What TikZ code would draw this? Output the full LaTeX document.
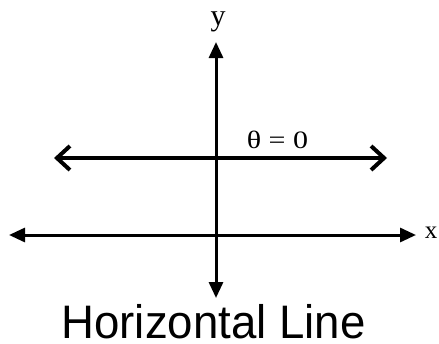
\documentclass[tikz,border=0pt]{standalone}
\usepackage{fontspec}
\setmainfont{Liberation Serif}
\newfontfamily\arialfont{Liberation Sans}
\usetikzlibrary{arrows.meta}
\begin{document}
\begin{tikzpicture}[x=1pt,y=-1pt,
  axisboth/.style={line width=3pt,{Triangle[length=16pt,width=14pt]}-{Triangle[length=16pt,width=14pt]}},
  barbline/.style={line width=4pt,{Straight Barb[length=13pt,width=24pt,line width=4pt]}-{Straight Barb[length=13pt,width=24pt,line width=4pt]}},
  lbl/.style={inner sep=0pt, anchor=base}]
\useasboundingbox (0,0) rectangle (439,343);
\coordinate (ytop) at (216,42);
\coordinate (ybot) at (216,298);
\coordinate (xleft) at (9,235);
\coordinate (xright) at (416,235);
\coordinate (hleft) at (54,158);
\coordinate (hright) at (387,158);
\draw[axisboth] (xleft) -- (xright);
\draw[axisboth] (ybot) -- (ytop);
\draw[barbline] (hleft) -- (hright);
\node[lbl, font=\fontsize{30}{31}\selectfont] (ylab) at (218,25) {y};
\node[lbl, font=\fontsize{25}{27}\selectfont] (xlab) at (431,238) {x};
\node[lbl, font=\fontsize{25}{27}\selectfont, xscale=1.2] (theta) at (277.5,148) {θ = 0};
\node[lbl, font=\arialfont\fontsize{47}{49}\selectfont, xscale=0.97] (title) at (213.5,338) {Horizontal Line};
\end{tikzpicture}
\end{document}
